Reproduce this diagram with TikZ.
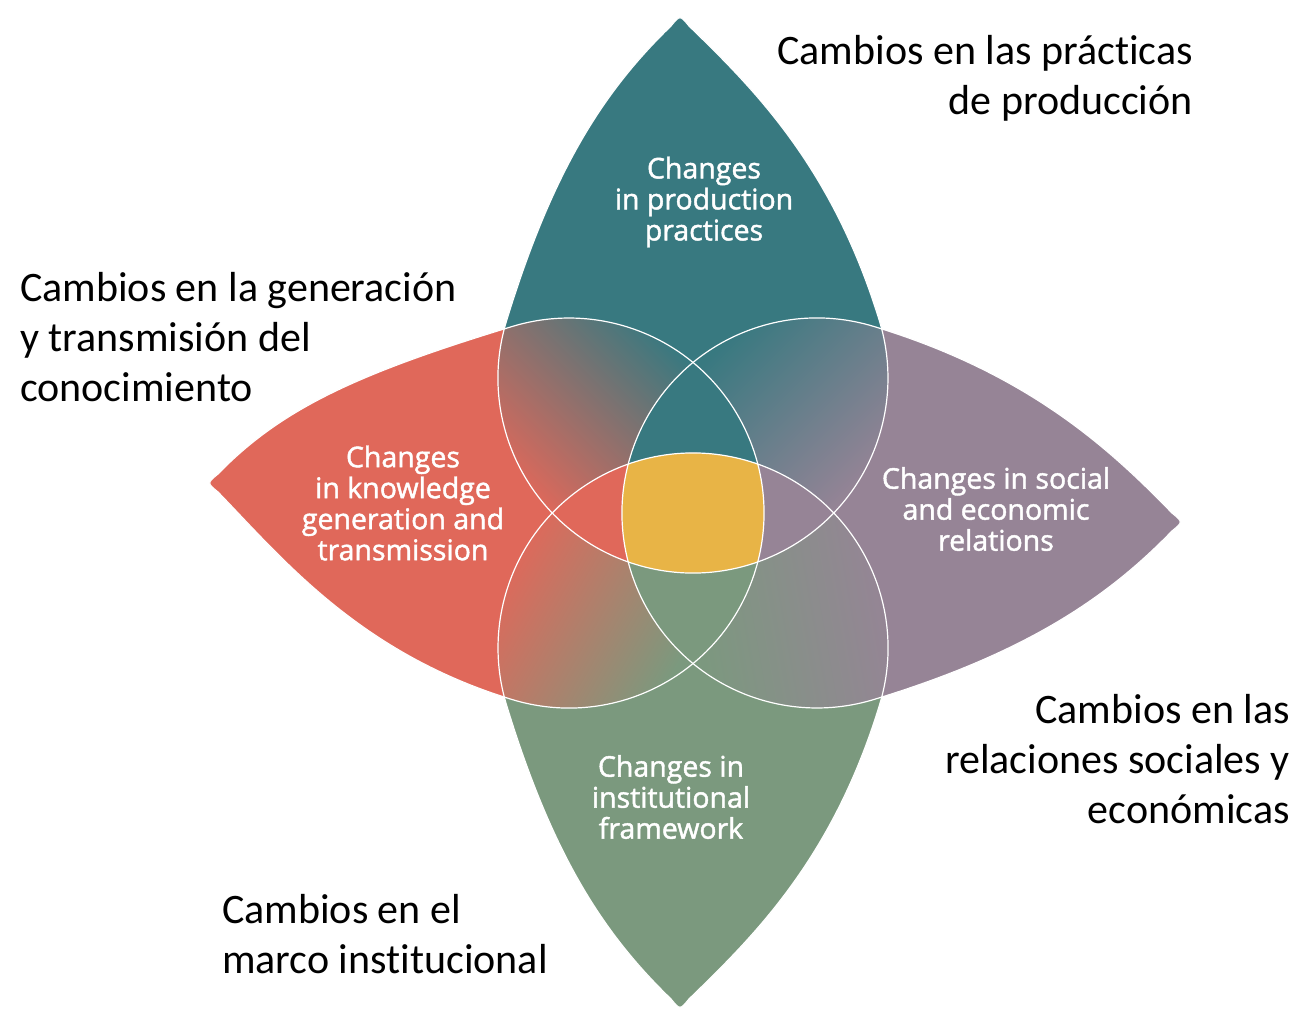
\documentclass[tikz,border=0pt]{standalone}
\usepackage{fontspec}
\setmainfont{Carlito}[Ligatures=NoCommon]
\newfontfamily\innerfont{Open Sans}[FakeBold=1.5]
\definecolor{colT}{RGB}{56,121,128}
\definecolor{colL}{RGB}{224,104,90}
\definecolor{colR}{RGB}{150,132,150}
\definecolor{colB}{RGB}{123,153,126}
\definecolor{colY}{RGB}{232,180,70}
\newcommand{\petalpath}[3]{(#2-9,#3-11) .. controls (#2-75,#3-75) and (-139.8,#1+210) .. (-186.5,#1+57)
  arc[start angle=163,end angle=377,radius=195]
  .. controls (139.8,#1+210) and (#2+75,#3-75) .. (#2+9,#3-11) .. controls (#2,#3) .. (#2-9,#3-11) -- cycle}
\newcommand{\petalT}{\petalpath{135}{-13}{498}}
\newcommand{\petalL}{\petalpath{124}{30}{486}}
\newcommand{\petalR}{\petalpath{124}{9}{490}}
\newcommand{\petalB}{\petalpath{135}{13}{497}}
\tikzset{
  rotL/.style={rotate=90},
  rotR/.style={rotate=-90},
  rotB/.style={rotate=180},
  petaltext/.style={text=white,align=center,font=\innerfont\fontsize{28.5}{31}\selectfont},
  outertext/.style={text=black,inner sep=0pt,font=\fontsize{42}{50}\selectfont}
}
\begin{document}
\begin{tikzpicture}[x=1pt,y=1pt]
    \useasboundingbox (-693,-500) rectangle (605,513);
    \fill[colT] \petalT;
    \fill[colL,rotL] \petalL;
    \fill[colR,rotR] \petalR;
    \fill[colB,rotB] \petalB;
    \begin{scope}
        \clip \petalT; \clip[rotL] \petalL;
        \shade[top color=colT,bottom color=colL,shading angle=-45] (-200,-10) rectangle (15,195);
    \end{scope}
    \begin{scope}
        \clip \petalT; \clip[rotR] \petalR;
        \shade[top color=colT,bottom color=colR,shading angle=45] (-5,0) rectangle (200,195);
    \end{scope}
    \begin{scope}
        \clip[rotB] \petalB; \clip[rotL] \petalL;
        \shade[top color=colL,bottom color=colB,shading angle=60] (-200,-200) rectangle (0,0);
    \end{scope}
    \begin{scope}
        \clip[rotB] \petalB; \clip[rotR] \petalR;
        \shade[top color=colR,bottom color=colB,shading angle=-80] (-5,-205) rectangle (200,10);
    \end{scope}
    \begin{scope}
        \clip \petalT; \clip[rotL] \petalL; \clip[rotR] \petalR;
        \fill[colT] (-200,-200) rectangle (200,200);
    \end{scope}
    \begin{scope}
        \clip \petalT; \clip[rotL] \petalL; \clip[rotB] \petalB;
        \fill[colL] (-200,-200) rectangle (200,200);
    \end{scope}
    \begin{scope}
        \clip \petalT; \clip[rotR] \petalR; \clip[rotB] \petalB;
        \fill[colR] (-200,-200) rectangle (200,200);
    \end{scope}
    \begin{scope}
        \clip[rotB] \petalB; \clip[rotL] \petalL; \clip[rotR] \petalR;
        \fill[colB] (-200,-200) rectangle (200,200);
    \end{scope}
    \begin{scope}
        \clip \petalT; \clip[rotL] \petalL; \clip[rotR] \petalR; \clip[rotB] \petalB;
        \fill[colY] (-200,-200) rectangle (200,200);
    \end{scope}
    \draw[white,line width=1.2pt] \petalT;
    \draw[white,line width=1.2pt,rotL] \petalL;
    \draw[white,line width=1.2pt,rotR] \petalR;
    \draw[white,line width=1.2pt,rotB] \petalB;
    \node[petaltext] (inT) at (11,311) {Changes\\in production\\practices};
    \node[petaltext] (inL) at (-290,10) {Changes\\in knowledge\\generation and\\transmission};
    \node[petaltext] (inR) at (303,4) {Changes in social\\and economic\\relations};
    \node[petaltext] (inB) at (-22,-284) {Changes in\\institutional\\framework};
    \node[outertext,anchor=east,align=right] (esT) at (500,435) {Cambios en las prácticas\\de producción};
    \node[outertext,anchor=west,align=left] (esL) at (-673,176) {Cambios en la generación\\y transmisión del\\conocimiento};
    \node[outertext,anchor=east,align=right] (esR) at (597,-246) {Cambios en las\\relaciones sociales y\\económicas};
    \node[outertext,anchor=west,align=left] (esB) at (-471,-421) {Cambios en el\\marco institucional};
\end{tikzpicture}
\end{document}
